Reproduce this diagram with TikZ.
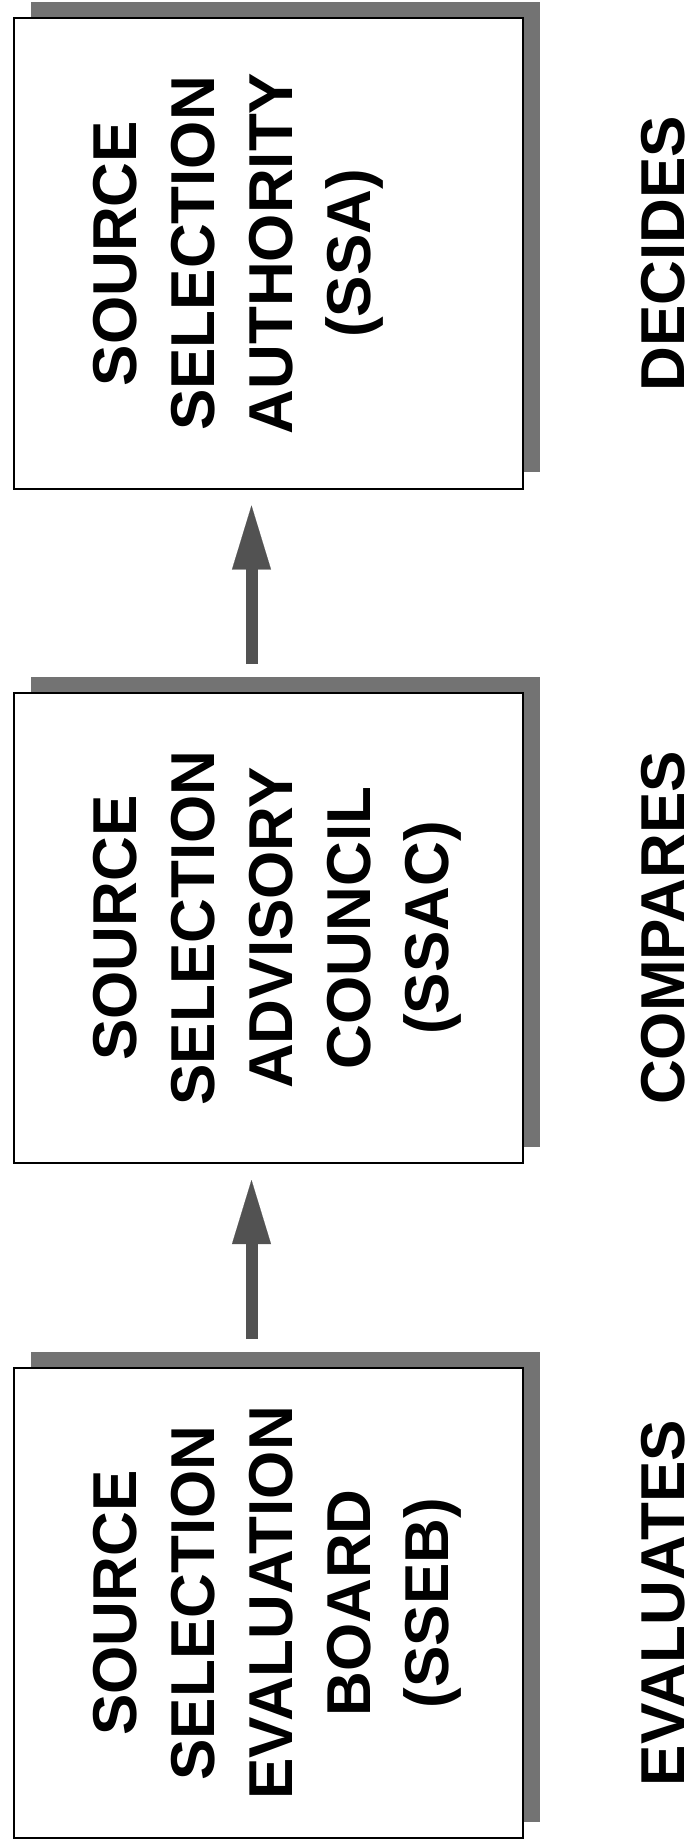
\documentclass[tikz,border=0pt]{standalone}
\usepackage{fontspec}
\setmainfont{Liberation Sans}
\usetikzlibrary{arrows.meta,shadows}

\begin{document}
\begin{tikzpicture}[y=-1bp,x=1bp]
        \tikzset{
            board/.style={rectangle,draw=black,line width=2bp,fill=white,minimum width=509bp,minimum height=470bp,
                general shadow={fill=black!55,shadow xshift=17bp,shadow yshift=16.5bp}},
            boardtext/.style={rotate=90,anchor=north,align=center,inner sep=0pt,font=\fontsize{62bp}{78bp}\selectfont\bfseries},
            role/.style={rotate=90,inner sep=0pt,font=\fontsize{62bp}{78bp}\selectfont\bfseries},
            flow/.style={draw=black!68,line width=12bp,-{Triangle[width=39bp,length=64bp,line width=0.1bp]},shorten <=28bp,shorten >=16bp}
        }
        \useasboundingbox (0,0) rectangle (695,1847);

        \node[board] (ssa) at (268.5,253.5) {};
        \node[board] (ssac) at (268.5,928) {};
        \node[board] (sseb) at (268.5,1603) {};

        \node[boardtext] (ssat) at (93,253.5) {SOURCE\\SELECTION\\AUTHORITY\\(SSA)};
        \node[boardtext] (ssact) at (93,928) {SOURCE\\SELECTION\\ADVISORY\\COUNCIL\\(SSAC)};
        \node[boardtext] (ssebt) at (93,1603) {SOURCE\\SELECTION\\EVALUATION\\BOARD\\(SSEB)};

        \node[role] (decides) at (663,253.5) {DECIDES};
        \node[role] (compares) at (663,928) {COMPARES};
        \node[role] (evaluates) at (663,1603) {EVALUATES};

        \draw[flow] ([xshift=-17bp]sseb.north) -- ([xshift=-17bp]ssac.south);
        \draw[flow] ([xshift=-17bp]ssac.north) -- ([xshift=-17bp]ssa.south);
    \end{tikzpicture}
\end{document}
